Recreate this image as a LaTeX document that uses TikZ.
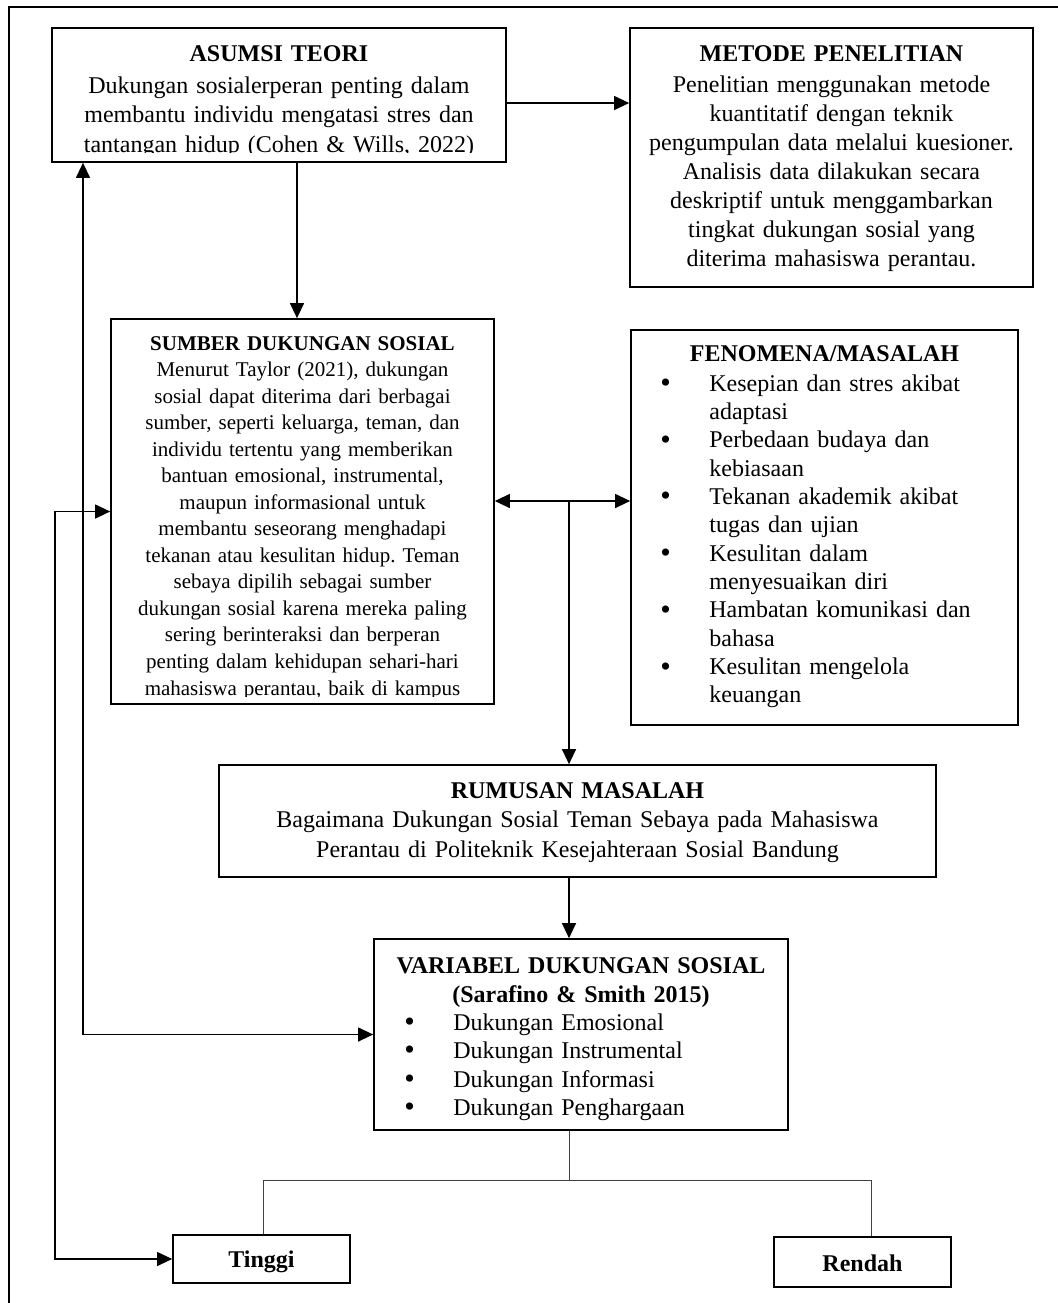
\documentclass[tikz,border=0pt]{standalone}
\usepackage{fontspec}
\setmainfont{Liberation Serif}
\usetikzlibrary{arrows.meta,fit}
\frenchspacing

\tikzset{
  kotak/.style={draw, line width=0.85pt, inner sep=0pt},
  isi/.style={inner sep=0pt, align=center, anchor=base},
  daftar/.style={inner sep=0pt, align=left, anchor=base west},
  panah/.style={-{Triangle[length=7.5pt,width=7pt]}, line width=0.6pt},
  panahdua/.style={{Triangle[length=7.5pt,width=7pt]}-{Triangle[length=7.5pt,width=7pt]}, line width=0.6pt},
  cabang/.style={line width=0.5pt, black!75},
}

\begin{document}
\begin{tikzpicture}[x=0.5pt, y=-0.5pt]
    \useasboundingbox (0,0) rectangle (1058,1303);
    \def\itm{\makebox[24.5pt][l]{\smash{\raisebox{-0.7pt}{\fontsize{15}{14}\selectfont\textbullet}}}}
    \def\lanj{\hspace*{24.5pt}}

    % outer frame
    \draw[line width=0.75pt] (9,1303) |- (1058,7);

    % 1. Boxes
    \node[kotak, fit={(52,28) (506,162)}] (asumsi) {};
    \node[kotak, fit={(630,28) (1033,287)}] (metode) {};
    \node[kotak, fit={(111,319) (494,704)}] (sumber) {};
    \node[kotak, fit={(631,330) (1018,725)}] (fenomena) {};
    \node[kotak, fit={(219,765) (936,877)}] (rumusan) {};
    \node[kotak, fit={(374,939) (788,1130)}] (variabel) {};
    \node[kotak, fit={(173,1235) (350,1283)}] (tinggi) {};
    \node[kotak, fit={(774,1237) (951,1287)}] (rendah) {};

    % 2. Texts
    \begin{scope}
        \clip (52,28) rectangle (506,152);
        \node[isi, text width=225pt, font=\fontsize{12}{14.7}\selectfont] (asumsiTxt) at (279,61)
            {\textbf{ASUMSI TEORI}\\[1.5pt]
             Dukungan sosialerperan penting dalam\\
             membantu individu mengatasi stres dan\\
             tantangan hidup (Cohen \& Wills, 2022)};
    \end{scope}

    \node[isi, text width=200pt, font=\fontsize{12}{14.5}\selectfont] (metodeTxt) at (831.5,61)
        {\textbf{METODE PENELITIAN}\\[1pt]
         Penelitian menggunakan metode\\
         kuantitatif dengan teknik\\
         pengumpulan data melalui kuesioner.\\
         Analisis data dilakukan secara\\
         deskriptif untuk menggambarkan\\
         tingkat dukungan sosial yang\\
         diterima mahasiswa perantau.};

    \begin{scope}
        \clip (111,319) rectangle (494,696);
        \node[isi, text width=185pt, font=\fontsize{10.5}{13.27}\selectfont] (sumberTxt) at (302.5,350)
            {\textbf{SUMBER DUKUNGAN SOSIAL}\\
             Menurut Taylor (2021), dukungan\\
             sosial dapat diterima dari berbagai\\
             sumber, seperti keluarga, teman, dan\\
             individu tertentu yang memberikan\\
             bantuan emosional, instrumental,\\
             maupun informasional untuk\\
             membantu seseorang menghadapi\\
             tekanan atau kesulitan hidup. Teman\\
             sebaya dipilih sebagai sumber\\
             dukungan sosial karena mereka paling\\
             sering berinteraksi dan berperan\\
             penting dalam kehidupan sehari-hari\\
             mahasiswa perantau, baik di kampus};
    \end{scope}

    \node[isi, text width=190pt, font=\fontsize{12}{14.2}\selectfont] (fenomenaJdl) at (824.5,361)
        {\textbf{FENOMENA/MASALAH}};
    \node[daftar, text width=175pt, font=\fontsize{12}{14.18}\selectfont] (fenomenaTxt) at (660,391)
        {\itm Kesepian dan stres akibat\\
         \lanj adaptasi\\
         \itm Perbedaan budaya dan\\
         \lanj kebiasaan\\
         \itm Tekanan akademik akibat\\
         \lanj tugas dan ujian\\
         \itm Kesulitan dalam\\
         \lanj menyesuaikan diri\\
         \itm Hambatan komunikasi dan\\
         \lanj bahasa\\
         \itm Kesulitan mengelola\\
         \lanj keuangan};

    \node[isi, text width=350pt, font=\fontsize{12}{14.75}\selectfont] (rumusanTxt) at (577.5,798)
        {\textbf{RUMUSAN MASALAH}\\
         Bagaimana Dukungan Sosial Teman Sebaya pada Mahasiswa\\
         Perantau di Politeknik Kesejahteraan Sosial Bandung};

    \node[isi, text width=200pt, font=\fontsize{12}{14.5}\selectfont] (variabelJdl) at (581,973)
        {\textbf{VARIABEL DUKUNGAN SOSIAL}\\
         \textbf{(Sarafino \& Smith 2015)}};
    \node[daftar, text width=180pt, font=\fontsize{12}{14.25}\selectfont] (variabelTxt) at (404,1030)
        {\itm Dukungan Emosional\\
         \itm Dukungan Instrumental\\
         \itm Dukungan Informasi\\
         \itm Dukungan Penghargaan};

    \node[isi, font=\fontsize{12}{14}\selectfont\bfseries] (tinggiTxt) at (261.5,1267) {Tinggi};
    \node[isi, font=\fontsize{12}{14}\selectfont\bfseries] (rendahTxt) at (862.5,1271) {Rendah};

    % 3. Arrows
    \coordinate (simpang) at (569,501);
    \coordinate (cab) at (569,1180);
    \draw[panah] (asumsi.east |- 0,103) -- (metode.west |- 0,103);
    \draw[panah] (asumsi.south -| 297,0) -- (sumber.north -| 297,0);
    \draw[panahdua] (sumber.east |- simpang) -- (fenomena.west |- simpang);
    \draw[panah] (simpang) -- (rumusan.north -| simpang);
    \draw[panah] (rumusan.south -| simpang) -- (variabel.north -| simpang);
    \draw[panahdua] (asumsi.south -| 83,0) -- (83,0 |- variabel.west) -- (variabel.west);
    \draw[panahdua] (sumber.west) -- (55,0 |- sumber.west) -- (55,0 |- tinggi.west) -- (tinggi.west);

    % 4. Branch to Tinggi / Rendah
    \draw[cabang] (variabel.south -| cab) -- (cab);
    \draw[cabang] (263,0 |- tinggi.north) |- (cab) -| (871,0 |- rendah.north);
\end{tikzpicture}
\end{document}
